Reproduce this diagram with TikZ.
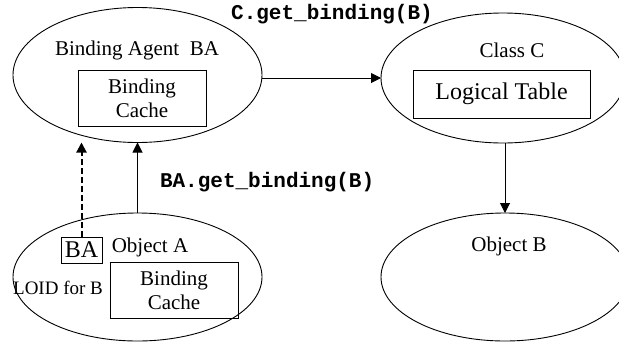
\documentclass[tikz,border=0pt]{standalone}
\usepackage{fontspec}
\setmainfont{Liberation Serif}
\setmonofont{Liberation Mono}
\usetikzlibrary{shapes.geometric,arrows.meta}
\begin{document}
\begin{tikzpicture}[x=1pt,y=-1pt,
  every node/.style={inner sep=0pt, outer sep=0pt},
  oval/.style={ellipse, draw, line width=0.9pt},
  box/.style={draw, line width=0.9pt, align=center},
  txt/.style={font=\fontsize{21}{24}\selectfont, align=center},
  code/.style={font=\fontsize{21}{24}\selectfont\ttfamily\bfseries},
  arr/.style={line width=1pt, -{Triangle[length=10pt,width=10pt]}}
]
\useasboundingbox (0,0) rectangle (619,341);
% ellipses
\node[oval, minimum width=249pt, minimum height=135pt] (ba) at (137.5,75) {};
\node[oval, minimum width=244pt, minimum height=130pt] (cc) at (503,78) {};
\node[oval, minimum width=248pt, minimum height=128pt] (ob) at (505,277) {};
\node[oval, minimum width=249pt, minimum height=128pt] (oa) at (137.5,277) {};
% Binding agent contents
\node[txt] (batitle) at (137,50) {Binding Agent~~BA};
\node[box, txt, minimum width=128pt, minimum height=56pt] (bac) at (142,98) {Binding\\Cache};
% Class C contents
\node[txt] (cctitle) at (512,50) {Class C};
\node[box, minimum width=177pt, minimum height=48pt, font=\fontsize{24}{28}\selectfont] (lt) at (501.5,94) {Logical Table};
% Object B
\node[txt] (obtitle) at (509,246) {Object B};
% Object A contents
\node[box, minimum width=41pt, minimum height=26pt, font=\fontsize{24}{28}\selectfont] (bab) at (81.5,250) {BA};
\node[txt] (oatitle) at (150,247) {Object A};
\node[box, txt, minimum width=128pt, minimum height=56pt] (oac) at (174,290) {Binding\\Cache};
\node[font=\fontsize{19}{22}\selectfont] (loid) at (58,288) {LOID for B};
% labels
\node[code] (l1) at (332,14) {C.get\_binding(B)};
\node[code, anchor=west] (l2) at (160,182) {BA.get\_binding(B)};
% connectors
\draw[arr] (ba.east |- cc.west) -- (cc.west);
\draw[arr] (ob.north |- cc.south) -- (ob.north);
\draw[arr] (oa.north) -- (ba.south);
\draw[arr, line width=2pt, dash pattern=on 6pt off 3pt] (bab.north) -- (bab.north |- ba.south);
\end{tikzpicture}
\end{document}
